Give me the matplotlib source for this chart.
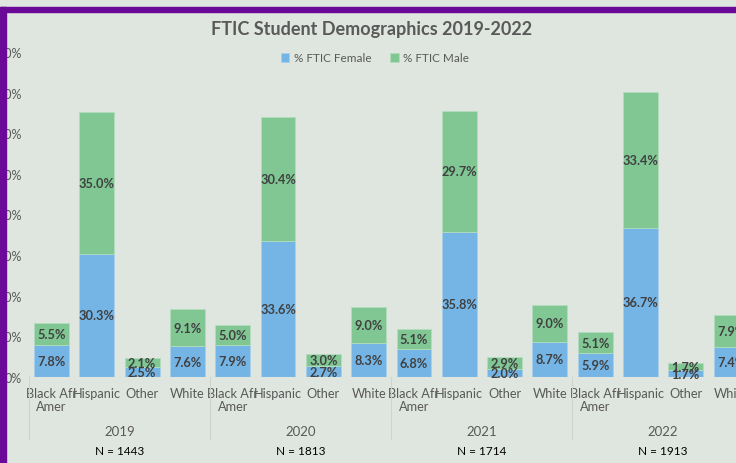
import matplotlib
matplotlib.use("Agg")
import matplotlib.pyplot as plt
from matplotlib.patches import Rectangle
import numpy as np

plt.rcParams['font.family'] = ['Lato', 'DejaVu Sans']

# data
years = ['2019', '2020', '2021', '2022']
n_labels = ['N = 1443', 'N = 1813', 'N = 1714', 'N = 1913']
groups = ['Black Afr\nAmer', 'Hispanic', 'Other', 'White']
female = [7.8, 30.3, 2.5, 7.6,
          7.9, 33.6, 2.7, 8.3,
          6.8, 35.8, 2.0, 8.7,
          5.9, 36.7, 1.7, 7.4]
male = [5.5, 35.0, 2.1, 9.1,
        5.0, 30.4, 3.0, 9.0,
        5.1, 29.7, 2.9, 9.0,
        5.1, 33.4, 1.7, 7.9]
yticks = [0, 10, 20, 30, 40, 50, 60, 70, 80]

blue = '#75b5e6'
green = '#80c794'
txt = '#404040'
bg = '#dfe6df'

W, H = 736, 464
fig = plt.figure(figsize=(W / 100, H / 100), dpi=100, facecolor=bg)

# axes placed in pixel terms (runs past the right edge like the screenshot)
left, right, bottom, top = 28.9, 28.9 + 45.3 * 16, 378, 53
ax = fig.add_axes([left / W, (H - bottom) / H, (right - left) / W, (bottom - top) / H])
ax.set_facecolor('none')

x = np.arange(len(female))
fb = ax.bar(x, female, width=0.77, color=blue, edgecolor='#a9cfe9', linewidth=0.6,
            label='% FTIC Female')
mb = ax.bar(x, male, width=0.77, bottom=female, color=green, edgecolor='#b3dcbd',
            linewidth=0.6, label='% FTIC Male')

for i in range(len(x)):
    ax.text(x[i], female[i] / 2, f'{female[i]:.1f}%', ha='center', va='center',
            fontsize=9.2, fontweight='bold', color=txt)
    ax.text(x[i], female[i] + male[i] / 2, f'{male[i]:.1f}%', ha='center', va='center',
            fontsize=9.2, fontweight='bold', color=txt)

ax.set_xlim(-0.5, len(x) - 0.5)
ax.set_ylim(0, 80)
ax.set_yticks(yticks)
ax.set_yticklabels([f'{v}%' for v in yticks], fontsize=9, color='#595959')
ax.tick_params(axis='y', length=0, pad=5)
ax.set_xticks(x)
ax.set_xticklabels(groups * len(years), fontsize=9.2, color='#595959', linespacing=1.15)
ax.tick_params(axis='x', length=0, pad=7)
for s in ax.spines.values():
    s.set_visible(False)
ax.axhline(0, color='#d3d8d3', lw=0.8)

# multi-level category axis
trans = ax.get_xaxis_transform()
for k, (yr, n) in enumerate(zip(years, n_labels)):
    cx = 4 * k + 1.5
    ax.annotate(yr, xy=(cx, 0), xycoords=trans, xytext=(0, -54), textcoords='offset pixels',
                ha='center', va='center', fontsize=9.5, color='#595959', annotation_clip=False)
    ax.annotate(n, xy=(cx, 0), xycoords=trans, xytext=(0, -74), textcoords='offset pixels',
                ha='center', va='center', fontsize=8.5, color='black', annotation_clip=False)
for b in range(0, len(x) + 1, 4):
    ax.plot([b - 0.5, b - 0.5], [0, -62 / (bottom - top)], transform=trans,
            color='#cfd4cf', lw=0.8, clip_on=False)

fig.text(372 / W, 1 - 30 / H, 'FTIC Student Demographics 2019-2022', ha='center', va='center',
         fontsize=13, fontweight='bold', color='#595959')
fig.legend(handles=[fb, mb], loc='center', bbox_to_anchor=(375 / W, 1 - 59 / H), ncol=2,
           frameon=False, fontsize=8.5, handlelength=0.7, handleheight=0.7,
           columnspacing=1.6, handletextpad=0.4, labelcolor='#595959')

# purple frame
purple = '#6b0a99'
fig.patches.append(Rectangle((0, 1 - 13 / H), 1, 5 / H, transform=fig.transFigure,
                             color=purple, zorder=10))
fig.patches.append(Rectangle((0, 0), 6 / W, 1 - 8 / H, transform=fig.transFigure,
                             color=purple, zorder=10))

fig.savefig('out.png', dpi=100, facecolor=bg)
